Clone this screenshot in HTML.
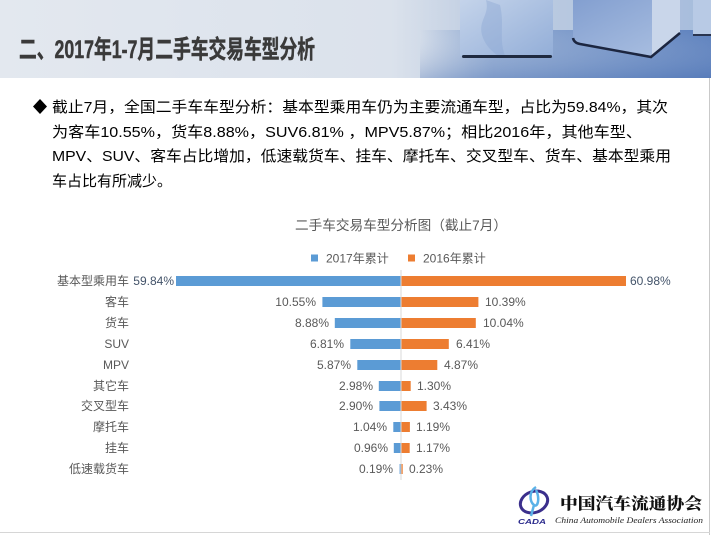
<!DOCTYPE html>
<html><head><meta charset="utf-8"><style>
html,body{margin:0;padding:0;background:#fff;}
svg{display:block;}
text{font-family:"Liberation Sans","Noto Sans CJK SC",sans-serif;}
</style></head><body>
<svg width="711" height="535" viewBox="0 0 711 535" xmlns="http://www.w3.org/2000/svg">
<defs>
<linearGradient id="hdr" x1="0" y1="0" x2="1" y2="0">
<stop offset="0" stop-color="#e3e8ef"/>
<stop offset="0.55" stop-color="#dbe2ec"/>
<stop offset="0.66" stop-color="#c3d0e3"/>
<stop offset="1" stop-color="#a6bcdc"/>
</linearGradient>
<linearGradient id="floor" x1="0" y1="0" x2="1" y2="0">
<stop offset="0" stop-color="#7f9dcc" stop-opacity="0"/>
<stop offset="0.25" stop-color="#7d9bcb" stop-opacity="0.7"/>
<stop offset="1" stop-color="#5c80bd"/>
</linearGradient>
<linearGradient id="floorv" x1="0" y1="0" x2="0" y2="1">
<stop offset="0" stop-color="#ffffff" stop-opacity="0"/>
<stop offset="1" stop-color="#4d72b2" stop-opacity="0.3"/>
</linearGradient>
<linearGradient id="cube1" x1="0" y1="0" x2="1" y2="1">
<stop offset="0" stop-color="#c6d5eb"/>
<stop offset="1" stop-color="#93aed8"/>
</linearGradient>
<linearGradient id="cube2" x1="0" y1="0" x2="1" y2="1">
<stop offset="0" stop-color="#839fd0"/>
<stop offset="1" stop-color="#acc1e2"/>
</linearGradient>
</defs>

<!-- header -->
<rect x="0" y="0" width="711" height="78" fill="url(#hdr)"/>
<rect x="420" y="30" width="291" height="48" fill="url(#floor)"/>
<rect x="420" y="30" width="291" height="48" fill="url(#floorv)"/>
<!-- cube 1 -->
<rect x="460" y="-4" width="93" height="60" fill="url(#cube1)"/>
<path d="M486 0 C490 15 478 20 482 35 C486 48 494 52 500 58 L506 58 C498 40 505 25 500 5 Z" fill="#8aa6d2" opacity="0.4"/>
<rect x="462" y="55" width="90" height="3" rx="1.5" fill="#1f2a40"/>
<!-- cube 2 -->
<path d="M573 0 L680 0 L680 32 L652 56 L578 43 Q573 42 573 37 Z" fill="url(#cube2)"/>
<path d="M652 0 L680 0 L680 32 L652 56 Z" fill="#c9d6ea"/>
<path d="M573 38 Q574 43 580 44 L651 57 L680 33" fill="none" stroke="#1c2640" stroke-width="2.5"/>
<!-- cube 3 -->
<rect x="693" y="-2" width="18" height="37" fill="#b8cae5"/>
<rect x="693" y="34" width="18" height="2" fill="#2a3550"/>

<text x="19" y="58" font-size="25" font-weight="bold" fill="#3a3a3a" stroke="#3a3a3a" stroke-width="0.5" textLength="296" lengthAdjust="spacingAndGlyphs">二、2017年1-7月二手车交易车型分析</text>

<!-- borders -->
<line x1="709.5" y1="78" x2="709.5" y2="535" stroke="#c9c9c9" stroke-width="1"/>
<line x1="0" y1="532.5" x2="710" y2="532.5" stroke="#d6d6d6" stroke-width="1"/>

<!-- paragraph -->
<polygon points="40,99 47,106.5 40,114 33,106.5" fill="#000"/>
<g font-size="15" fill="#000">
<text x="52" y="112" textLength="616" lengthAdjust="spacingAndGlyphs">截止7月，全国二手车车型分析：基本型乘用车仍为主要流通车型，占比为59.84%，其次</text>
<text x="52" y="137" textLength="590" lengthAdjust="spacingAndGlyphs">为客车10.55%，货车8.88%，SUV6.81% ，MPV5.87%；相比2016年，其他车型、</text>
<text x="52" y="161" textLength="619" lengthAdjust="spacingAndGlyphs">MPV、SUV、客车占比增加，低速载货车、挂车、摩托车、交叉型车、货车、基本型乘用</text>
<text x="52" y="186" textLength="120" lengthAdjust="spacingAndGlyphs">车占比有所减少。</text>
</g>

<!-- chart title -->
<text x="295" y="230" font-size="13.5" fill="#595959" textLength="212" lengthAdjust="spacingAndGlyphs">二手车交易车型分析图（截止7月）</text>

<!-- legend -->
<rect x="311" y="254.5" width="7" height="7" fill="#5b9bd5"/>
<text x="326" y="262.5" font-size="12" fill="#595959">2017年累计</text>
<rect x="408" y="254.5" width="7" height="7" fill="#ed7d31"/>
<text x="423" y="262.5" font-size="12" fill="#595959">2016年累计</text>

<!-- category labels -->
<g font-size="12" fill="#595959" text-anchor="end">
<text x="129" y="285">基本型乘用车</text>
<text x="129" y="306">客车</text>
<text x="129" y="327">货车</text>
<text x="129" y="348">SUV</text>
<text x="129" y="369">MPV</text>
<text x="129" y="390">其它车</text>
<text x="129" y="410">交叉型车</text>
<text x="129" y="431">摩托车</text>
<text x="129" y="452">挂车</text>
<text x="129" y="473">低速载货车</text>
</g>

<!-- 2017 bars -->
<g fill="#5b9bd5">
<rect x="176" y="276" width="225" height="10"/>
<rect x="322.4" y="297" width="78.6" height="10"/>
<rect x="334.8" y="318" width="66.2" height="10"/>
<rect x="350.3" y="339" width="50.7" height="10"/>
<rect x="357.3" y="360" width="43.7" height="10"/>
<rect x="378.8" y="381" width="22.2" height="10"/>
<rect x="379.4" y="401" width="21.6" height="10"/>
<rect x="393.3" y="422" width="7.7" height="10"/>
<rect x="393.8" y="443" width="7.2" height="10"/>
<rect x="399.6" y="464" width="1.4" height="10"/>
</g>
<!-- 2016 bars -->
<g fill="#ed7d31">
<rect x="401" y="276" width="225" height="10"/>
<rect x="401" y="297" width="77.4" height="10"/>
<rect x="401" y="318" width="74.8" height="10"/>
<rect x="401" y="339" width="47.8" height="10"/>
<rect x="401" y="360" width="36.3" height="10"/>
<rect x="401" y="381" width="9.7" height="10"/>
<rect x="401" y="401" width="25.6" height="10"/>
<rect x="401" y="422" width="8.9" height="10"/>
<rect x="401" y="443" width="8.7" height="10"/>
<rect x="401" y="464" width="1.7" height="10"/>
</g>
<line x1="401" y1="270" x2="401" y2="480" stroke="#d9d9d9" stroke-width="1"/>

<!-- 2017 value labels -->
<g font-size="12" fill="#595959" text-anchor="end">
<text x="174" y="285" fill="#44546a">59.84%</text>
<text x="316" y="306">10.55%</text>
<text x="329" y="327">8.88%</text>
<text x="344" y="348">6.81%</text>
<text x="351" y="369">5.87%</text>
<text x="373" y="390">2.98%</text>
<text x="373" y="410">2.90%</text>
<text x="387" y="431">1.04%</text>
<text x="388" y="452">0.96%</text>
<text x="393" y="473">0.19%</text>
</g>
<!-- 2016 value labels -->
<g font-size="12" fill="#595959">
<text x="630" y="285" fill="#44546a">60.98%</text>
<text x="485" y="306">10.39%</text>
<text x="483" y="327">10.04%</text>
<text x="456" y="348">6.41%</text>
<text x="444" y="369">4.87%</text>
<text x="417" y="390">1.30%</text>
<text x="433" y="410">3.43%</text>
<text x="416" y="431">1.19%</text>
<text x="416" y="452">1.17%</text>
<text x="409" y="473">0.23%</text>
</g>

<!-- logo -->
<ellipse cx="534" cy="502" rx="14" ry="10.5" fill="none" stroke="#3b2f8c" stroke-width="3" transform="rotate(-20 534 502)"/>
<path d="M536 487 C528 492 530 502 534 505 C538 508 540 498 536 490 M534 505 L531 516" fill="none" stroke="#5ab2e8" stroke-width="2.5"/>
<text x="518" y="524" font-size="7.5" font-weight="bold" font-style="italic" fill="#2b2a8c" textLength="28" lengthAdjust="spacingAndGlyphs">CADA</text>
<text x="560" y="509" font-size="16" font-weight="900" fill="#111" textLength="142" lengthAdjust="spacingAndGlyphs" style='font-family:"Noto Serif CJK SC","Noto Sans CJK SC",serif'>中国汽车流通协会</text>
<text x="555" y="523" font-size="8.5" font-style="italic" fill="#222" textLength="148" lengthAdjust="spacingAndGlyphs" style='font-family:"Liberation Serif",serif'>China Automobile Dealers Association</text>
</svg>
</body></html>
